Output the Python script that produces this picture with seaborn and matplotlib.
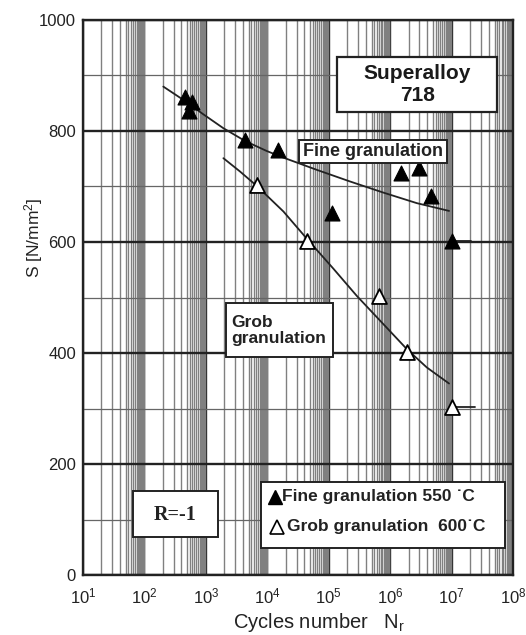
import numpy as np
import matplotlib
matplotlib.use("Agg")
import matplotlib.pyplot as plt
import seaborn as sns
from matplotlib.ticker import LogLocator, FixedLocator, MultipleLocator
from matplotlib.patches import Rectangle

# measured points (cycles, stress)
fine_n = [450, 600, 530, 4300, 15000, 112000, 1.5e6, 2.9e6, 4.6e6, 1.0e7]
fine_s = [862, 852, 836, 783, 766, 653, 724, 733, 682, 602]
grob_n = [6700, 43500, 6.5e5, 1.9e6, 1.0e7]
grob_s = [703, 602, 502, 402, 302]

# run-outs (no failure)
runout_n = [1.0e7, 1.0e7]
runout_end = [2.1e7, 2.4e7]
runout_s = [602, 302]

# fitted curves
fine_curve_n = [203, 431, 912, 1930, 4350, 9770, 18300, 64000, 223000, 776000, 2.72e6, 9.1e6]
fine_curve_s = [880, 856, 830, 805, 782, 764, 752, 730, 709, 689, 670, 656]
grob_curve_n = [1930, 3600, 6750, 18300, 44000, 119000, 286000, 776000, 1.87e6, 3.95e6, 9.1e6]
grob_curve_s = [751, 727, 701, 655, 606, 552, 503, 452, 407, 374, 345]

xticks = [1e1, 1e2, 1e3, 1e4, 1e5, 1e6, 1e7, 1e8]
xticklabels = ["$10^{%d}$" % i for i in range(1, 9)]
yticks = [0, 200, 400, 600, 800, 1000]

sns.set_style("white")
plt.rcParams["font.family"] = ["Liberation Sans", "DejaVu Sans"]
plt.rcParams["mathtext.default"] = "regular"

fig = plt.figure(figsize=(5.26, 6.35), dpi=100)
ax = fig.add_axes([83 / 526, 1 - 575 / 635, 430 / 526, 555 / 635])

# log paper style grid
ax.set_xscale("log")
ax.set_xlim(1e1, 1e8)
ax.set_ylim(0, 1000)
ax.xaxis.set_major_locator(FixedLocator(xticks))
ax.xaxis.set_minor_locator(LogLocator(base=10, subs=[2, 3, 4, 5, 5.5, 6, 6.5, 7, 7.5, 8, 8.25, 8.5, 8.75, 9, 9.25, 9.5, 9.75], numticks=200))
ax.yaxis.set_major_locator(FixedLocator(yticks))
ax.yaxis.set_minor_locator(MultipleLocator(100))
ax.set_axisbelow(True)
ax.grid(which="major", axis="both", color="#222222", lw=1.7)
ax.grid(which="minor", axis="x", color="#808080", lw=1.0)
ax.grid(which="minor", axis="y", color="#666666", lw=0.9)
ax.set_xticklabels(xticklabels)
ax.tick_params(which="both", length=0, labelsize=12, colors="#222222")
ax.tick_params(axis="x", pad=8)
ax.tick_params(axis="y", pad=5)
for sp in ax.spines.values():
    sp.set_color("#222222")
    sp.set_linewidth(1.7)

# curves
sns.lineplot(x=fine_curve_n, y=fine_curve_s, color="#222222", lw=1.3, ax=ax, zorder=3)
sns.lineplot(x=grob_curve_n, y=grob_curve_s, color="#222222", lw=1.3, ax=ax, zorder=3)

# run-out lines
for n0, n1, s in zip(runout_n, runout_end, runout_s):
    ax.plot([n0, n1], [s, s], color="#222222", lw=1.3, zorder=3)

# points
sns.scatterplot(x=fine_n, y=fine_s, marker="^", s=115, color="black", edgecolor="black", ax=ax, zorder=4)
sns.scatterplot(x=grob_n, y=grob_s, marker="^", s=115, color="white", edgecolor="black", linewidth=1.3, ax=ax, zorder=4)


def frame(x0, y0, x1, y1, lw=1.4):
    ax.add_patch(Rectangle((x0, y0), x1 - x0, y1 - y0, transform=ax.transAxes,
                           fc="white", ec="#222222", lw=lw, zorder=5))


frame(0.591, 0.834, 0.963, 0.933, lw=1.6)
ax.text(0.777, 0.884, "Superalloy\n718", transform=ax.transAxes, ha="center", va="center",
        fontsize=15, fontweight="bold", linespacing=1.2, color="#1a1a1a", zorder=6)

frame(0.502, 0.742, 0.847, 0.784)
ax.text(0.674, 0.763, "Fine granulation", transform=ax.transAxes, ha="center", va="center",
        fontsize=13, fontweight="bold", color="#222222", zorder=6)

frame(0.333, 0.393, 0.581, 0.490)
ax.text(0.345, 0.441, "Grob\ngranulation", transform=ax.transAxes, ha="left", va="center",
        fontsize=12.5, fontweight="bold", linespacing=1.05, color="#222222", zorder=6)

frame(0.116, 0.068, 0.314, 0.151)
ax.text(0.215, 0.109, "R=-1", transform=ax.transAxes, ha="center", va="center",
        fontsize=14.5, fontweight="bold", family=["Liberation Serif", "DejaVu Serif"],
        color="#222222", zorder=6)

# legend box
frame(0.414, 0.049, 0.981, 0.168)
ax.plot([0.447], [0.141], marker="^", ls="", color="black", markersize=10,
        transform=ax.transAxes, zorder=6)
ax.plot([0.451], [0.087], marker="^", ls="", mfc="white", mec="black", mew=1.2,
        markersize=10, transform=ax.transAxes, zorder=6)
ax.text(0.463, 0.141, "Fine granulation 550 \u02d9C", transform=ax.transAxes, ha="left",
        va="center", fontsize=12.5, fontweight="bold", color="#222222", zorder=6)
ax.text(0.474, 0.087, "Grob granulation  600\u02d9C", transform=ax.transAxes, ha="left",
        va="center", fontsize=12.5, fontweight="bold", color="#222222", zorder=6)

ax.set_ylabel("S [N/mm$^2$]", fontsize=12.5, color="#222222")
ax.yaxis.set_label_coords(-0.088, 0.607)
ax.set_xlabel("Cycles number   N$_r$", fontsize=14.5, color="#222222")
ax.xaxis.set_label_coords(0.549, -0.065)

fig.savefig("out.png", dpi=100)
